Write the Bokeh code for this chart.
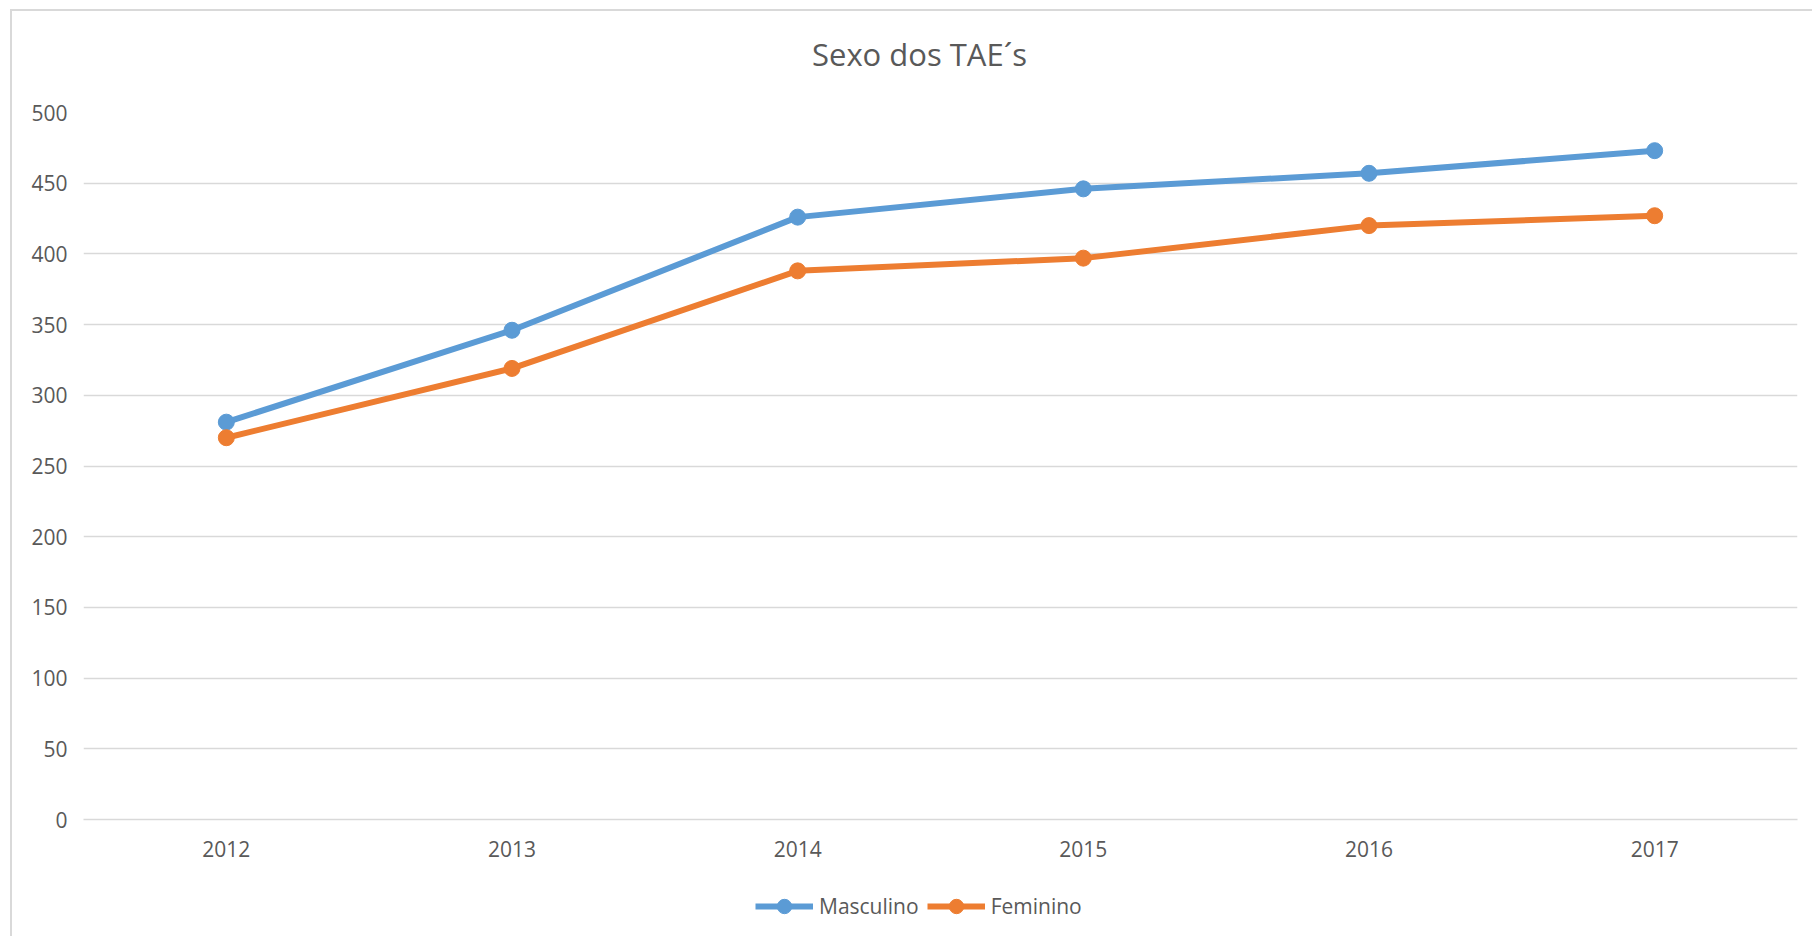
from bokeh.plotting import figure
from bokeh.layouts import column
from bokeh.models import Range1d, FactorRange, Legend, LegendItem, SingleIntervalTicker, Label
from bokeh.embed import file_html
from bokeh.resources import INLINE

years = ["2012", "2013", "2014", "2015", "2016", "2017"]
masculino = [281, 346, 426, 446, 457, 473]
feminino = [270, 319, 388, 397, 420, 427]
title_text = "Sexo dos TAE´s"
series_names = ["Masculino", "Feminino"]

BLUE = "#5B9BD5"
ORANGE = "#ED7D31"
TXT = "#595959"
GRID = "#D9D9D9"
FONT = "Open Sans"
W = 1800
LW = 6
MS = 16


def blank(height):
    # strips share the main plot's frame alignment; x in page pixels of the frame
    f = figure(width=W, height=height, x_range=Range1d(83, 1797), y_range=Range1d(0, height),
               output_backend="svg", toolbar_location=None, x_axis_type=None, y_axis_type=None,
               min_border_left=0, min_border_right=0, min_border_top=0, min_border_bottom=0)
    f.outline_line_color = None
    f.xgrid.grid_line_color = None
    f.ygrid.grid_line_color = None
    f.background_fill_color = "white"
    f.border_fill_color = "white"
    return f


# title strip
head = blank(86)
head.add_layout(Label(x=919, y=44, text=title_text, text_align="center", text_baseline="middle",
                      text_font=FONT, text_font_size="31px", text_color=TXT))

# main chart
p = figure(width=W, height=778, x_range=FactorRange(*years), y_range=Range1d(0, 500),
           output_backend="svg", toolbar_location=None,
           min_border_left=71, min_border_right=15, min_border_top=15, min_border_bottom=56)
p.outline_line_color = None
p.background_fill_color = "white"
p.border_fill_color = "white"
p.xgrid.grid_line_color = None
p.ygrid.grid_line_color = GRID
p.ygrid.grid_line_width = 1.3
p.yaxis.ticker = SingleIntervalTicker(interval=50)

for ax in (p.xaxis, p.yaxis):
    ax.major_tick_line_color = None
    ax.minor_tick_line_color = None
    ax.major_label_text_font = FONT
    ax.major_label_text_font_size = "21px"
    ax.major_label_text_color = TXT
p.yaxis.axis_line_color = None
p.yaxis.major_label_standoff = 10
p.xaxis.axis_line_color = GRID
p.xaxis.axis_line_width = 1.3
p.xaxis.major_label_standoff = 15

p.line(years, masculino, line_color=BLUE, line_width=LW)
p.scatter(years, masculino, size=MS, fill_color=BLUE, line_color=BLUE)
p.line(years, feminino, line_color=ORANGE, line_width=LW)
p.scatter(years, feminino, size=MS, fill_color=ORANGE, line_color=ORANGE)

# legend strip (its renderers lie outside the strip's visible range; only the legend shows)
leg = blank(61)
items = []
xs_num = [int(y) for y in years]
for name, vals, col in zip(series_names, [masculino, feminino], [BLUE, ORANGE]):
    lr = leg.line(xs_num, vals, line_color=col, line_width=LW)
    sr = leg.scatter(xs_num, vals, size=MS, fill_color=col, line_color=col)
    items.append(LegendItem(label=name, renderers=[lr, sr]))
legend = Legend(items=items, location=(672, 12), orientation="horizontal",
                border_line_color=None, background_fill_alpha=0,
                label_text_font=FONT, label_text_font_size="21px", label_text_color=TXT,
                glyph_width=58, glyph_height=36, label_height=36, label_standoff=6, spacing=8,
                padding=0, margin=0)
leg.add_layout(legend, "center")

layout = column(head, p, leg, spacing=0)
layout.styles = {"border-left": "2px solid #D9D9D9", "border-top": "2px solid #D9D9D9",
                 "margin-left": "10px", "margin-top": "9px"}

open("out.html", "w").write(file_html(layout, INLINE))
